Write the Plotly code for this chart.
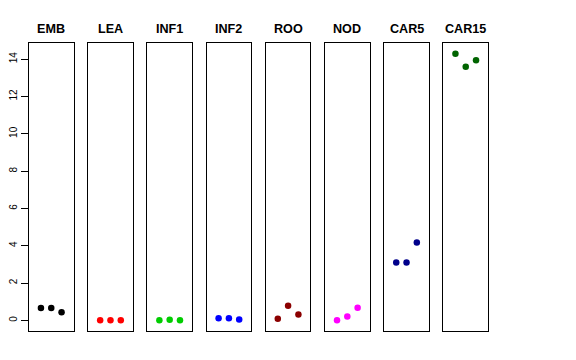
import plotly.graph_objects as go

groups = ["EMB", "LEA", "INF1", "INF2", "ROO", "NOD", "CAR5", "CAR15"]
values = [
    [0.66, 0.66, 0.43],
    [0.00, 0.00, 0.00],
    [0.00, 0.03, 0.00],
    [0.12, 0.12, 0.04],
    [0.09, 0.79, 0.32],
    [0.00, 0.21, 0.68],
    [3.10, 3.10, 4.17],
    [14.30, 13.60, 13.95],
]
colors = ["#000000", "#FF0000", "#00CD00", "#0000FF", "#8B0000", "#FF00FF", "#00008B", "#006400"]
reps = [1, 2, 3]
yticks = [0, 2, 4, 6, 8, 10, 12, 14]

# page body has an 8px margin; figure is placed at (8, 8)
OFF = 8
W, H = 576 - 2 * OFF, 360 - 2 * OFF
left0, pitch, pw = 29.0 - OFF, 59.2, 44.5
right_px = left0 + pitch * 7 + pw
top_px, bot_px = 43.3 - OFF, 331.0 - OFF
pwid = right_px - left0
title_px = 29.5 - OFF

fig = go.Figure()
layout = dict(
    width=W, height=H,
    margin=dict(l=left0, r=W - right_px, t=top_px, b=H - bot_px, autoexpand=False),
    paper_bgcolor="white", plot_bgcolor="white",
    showlegend=False,
    font=dict(family="Liberation Sans, Arial, sans-serif", color="black"),
)
annotations = []
for i, (g, vals, c) in enumerate(zip(groups, values, colors)):
    n = "" if i == 0 else str(i + 1)
    x0 = (pitch * i) / pwid
    x1 = min(1.0, (pitch * i + pw) / pwid)
    fig.add_trace(go.Scatter(
        x=reps, y=vals, mode="markers",
        marker=dict(color=c, size=6.5),
        xaxis="x" + n, yaxis="y" + n, hoverinfo="skip",
    ))
    layout["xaxis" + n] = dict(
        domain=[x0, x1], range=[-0.16, 4.16], anchor="y" + n, automargin=False,
        showticklabels=False, ticks="", showgrid=False, zeroline=False,
        showline=True, linecolor="black", linewidth=1, mirror=True,
    )
    yax = dict(
        domain=[0, 1], range=[-0.57, 14.87], automargin=False,
        anchor="x" + n, showgrid=False, zeroline=False,
        showline=True, linecolor="black", linewidth=1, mirror=True,
    )
    if i == 0:
        yax.update(
            tickmode="array", tickvals=yticks, ticktext=[str(t) for t in yticks],
            ticks="outside", ticklen=7, tickwidth=1, tickcolor="black",
            tickangle=-90, tickfont=dict(size=10, color="black"),
        )
    else:
        yax.update(showticklabels=False, ticks="")
    layout["yaxis" + n] = yax
    annotations.append(dict(
        text="<b>" + g + "</b>", x=(x0 + x1) / 2,
        y=1 + (top_px - title_px) / (bot_px - top_px),
        xref="paper", yref="paper", xanchor="center", yanchor="middle",
        showarrow=False, font=dict(size=12.6, color="black"),
    ))
layout["annotations"] = annotations
fig.update_layout(**layout)
fig.write_html("out.html")
